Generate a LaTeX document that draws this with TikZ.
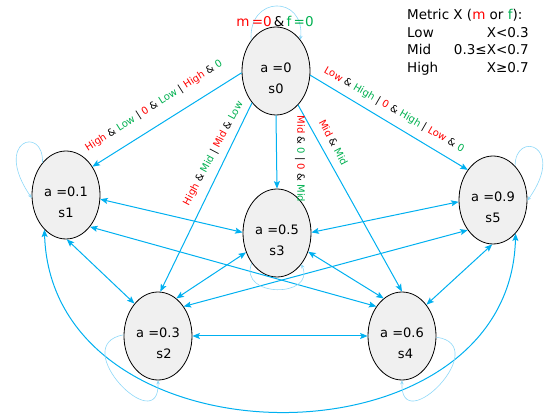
\documentclass[tikz,border=0pt]{standalone}
\usepackage{fontspec}
\setmainfont{DejaVu Sans}
\usetikzlibrary{arrows.meta,shapes.geometric}

\definecolor{mred}{HTML}{FF0000}
\definecolor{mgreen}{HTML}{00B050}
\definecolor{link}{HTML}{00B0F0}
\definecolor{selflink}{HTML}{8ED8F8}
\definecolor{statefill}{HTML}{F0F0F0}

% value of metric m (red) and metric f (green)
\newcommand{\mv}[1]{\textcolor{mred}{#1}}
\newcommand{\fv}[1]{\textcolor{mgreen}{#1}}
% two-line state text, baseline on the first line
\newcommand{\statetext}[2]{\begin{tabular}[t]{@{}c@{}}#1\\#2\end{tabular}}

\begin{document}
\begin{tikzpicture}[x=1pt,y=-1pt,
  state/.style={ellipse, draw=black, line width=0.8pt, fill=statefill,
    minimum width=68pt, minimum height=88pt, inner sep=0pt,
    text height=10pt, text depth=6pt, font=\fontsize{13}{21}\selectfont},
  tip/.tip={Stealth[length=7.5pt,width=6pt,inset=1.5pt]},
  trans/.style={draw=link, line width=1pt, -tip},
  both/.style={draw=link, line width=1pt, tip-tip},
  selfloop/.style={draw=selflink, line width=0.6pt, -{Stealth[length=4pt,width=3.5pt]}},
  cond/.style={font=\fontsize{10}{12}\selectfont, inner sep=0pt},
  legend/.style={font=\fontsize{13.5}{16}\selectfont, inner sep=0pt},
]
\useasboundingbox (0,0) rectangle (549,419);

% states
\node[state] (s0) at (276,71)  {\statetext{a =0}{s0}};
\node[state] (s1) at (66,195)  {\statetext{a =0.1}{s1}};
\node[state] (s2) at (158,336) {\statetext{a =0.3}{\hspace{12pt}s2}};
\node[state] (s3) at (277,233) {\statetext{a =0.5}{s3}};
\node[state] (s4) at (402,336) {\statetext{a =0.6}{\hspace{7pt}s4}};
\node[state] (s5) at (493,200) {\statetext{a =0.9}{s5}};

% transitions leaving s0
\draw[trans] (s0.183) -- (s1.47);
\draw[trans] (s0.233) -- (s2.87);
\draw[trans] (s0.south) -- (s3.north);
\draw[trans] (s0.303) -- (s4.north);
\draw[trans] (s0.-7) -- (s5.130);

% transitions in both directions
\draw[both] (s1.-7) -- (s3.179);
\draw[both] (s3.1) -- (s5.183);
\draw[both] (s1.-89) -- (s2.126);
\draw[both] (s2.64) -- (s3.212);
\draw[both] (s2.49) -- (s5.230);
\draw[both] (s2.0) -- (s4.180);
\draw[both] (s3.-31) -- (s4.116);
\draw[both] (s1.-53) -- (s4.131);
\draw[both] (s4.52) -- (s5.-91);
\draw[both] (s1.238) .. controls (52,470) and (510,472) .. (s5.-56);

% self loops
\draw[selfloop] (s0.129) .. controls (248,-5) and (305,-5) .. (s0.52);
\draw[selfloop] (s1.126) .. controls (44,125) and (-8,140) .. (s1.185);
\draw[selfloop] (s5.57) .. controls (515,130) and (567,145) .. (s5.-1);
\draw[selfloop] (s2.178) .. controls (66,345) and (160,440) .. (s2.270);
\draw[selfloop] (s4.-2) .. controls (494,345) and (400,440) .. (s4.270);
\draw[selfloop] (s3.230) .. controls (238,298) and (316,298) .. (s3.-52);

% conditions on the transitions out of s0
\node[cond, anchor=base] (c00) at (275,27)
  {\fontsize{13.5}{16}\selectfont\mv{m\,=0}\,\&\,\fv{f\,=0}};
\node[cond, rotate=32.5] (c01) at (154,106)
  {\mv{High} \& \fv{Low} | \mv{0} \& \fv{Low} | \mv{High} \& \fv{0}};
\node[cond, rotate=62] (c02) at (213.5,153.5)
  {\mv{High} \& \fv{Mid} | \mv{Mid} \& \fv{Low}};
\node[cond, rotate=-90] (c03) at (300,159)
  {\mv{Mid} \& \fv{0} | \mv{0} \& \fv{Mid}};
\node[cond, rotate=-62] (c04) at (333.5,142.5)
  {\mv{Mid} \& \fv{Mid}};
\node[cond, rotate=-30] (c05) at (394,110)
  {\mv{Low} \& \fv{High} | \mv{0} \& \fv{High} | \mv{Low} \& \fv{0}};

% legend
\node[legend, anchor=base west] (key)    at (407,20)   {Metric X (\mv{m} or \fv{f}):};
\node[legend, anchor=base west] (kLow)   at (407,38)   {Low};
\node[legend, anchor=base east] (kLowR)  at (529,38)   {X<0.3};
\node[legend, anchor=base west] (kMid)   at (407,55)   {Mid};
\node[legend, anchor=base east] (kMidR)  at (529,55)   {0.3≤X<0.7};
\node[legend, anchor=base west] (kHigh)  at (407,72.5) {High};
\node[legend, anchor=base east] (kHighR) at (529,72.5) {X≥0.7};
\end{tikzpicture}
\end{document}
